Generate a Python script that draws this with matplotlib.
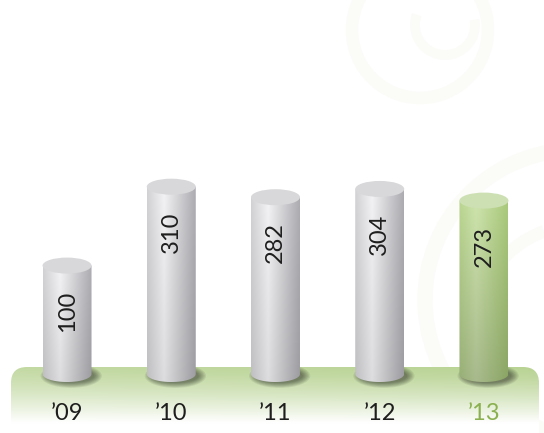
import numpy as np
import matplotlib
matplotlib.use("Agg")
import matplotlib.pyplot as plt
from matplotlib.patches import Ellipse, FancyBboxPatch, PathPatch, Arc
from matplotlib.path import Path
from matplotlib.colors import to_rgb

years = ["\u201909", "\u201910", "\u201911", "\u201912", "\u201913"]
values = [100, 310, 282, 304, 273]
highlight = [False, False, False, False, True]

plt.rcParams['font.family'] = ['Lato', 'DejaVu Sans']

W, H = 544, 433
fig = plt.figure(figsize=(W / 100, H / 100), dpi=100)

# decoration layer in pixel coordinates
deco = fig.add_axes([0, 0, 1, 1], zorder=0)
deco.set_xlim(0, W)
deco.set_ylim(H, 0)
deco.axis('off')

swirl = '#fbfbf8'
deco.add_patch(Arc((420, 30), 136, 136, theta1=0, theta2=360, color=swirl, lw=9))
deco.add_patch(Arc((445, 25), 60, 60, theta1=-10, theta2=200, color=swirl, lw=7))
deco.add_patch(Arc((575, 300), 300, 300, theta1=90, theta2=260, color=swirl, lw=11))
deco.add_patch(Arc((580, 330), 210, 210, theta1=100, theta2=250, color=swirl, lw=9))

# green platform
plat = FancyBboxPatch((11, 367), 528, 90, boxstyle="round,pad=0,rounding_size=16",
                      facecolor='none', edgecolor='none')
deco.add_patch(plat)
gy = np.linspace(0, 1, 200)[:, None]
top_c = np.array(to_rgb('#b9d394'))
white = np.ones(3)
fade = np.clip(gy / 0.62, 0, 1) ** 1.3
grad = top_c[None, None, :] * (1 - fade[..., None]) + white[None, None, :] * fade[..., None]
gx = np.linspace(0, 1, 300)[None, :]
side = 0.85 + 0.15 * gx
grad = grad * side[..., None] + white * (1 - side[..., None])
img = deco.imshow(grad, extent=(11, 539, 457, 367), aspect='auto', zorder=1)
img.set_clip_path(plat)

# chart layer in data coordinates
ax = fig.add_axes([0, 0, 1, 1], zorder=1)
ax.patch.set_alpha(0)
ax.axis('off')
ax.set_xlim(-0.643, 4.576)
ax.set_ylim(-345.6, 806.9)

floor = -188.6
hw = 0.235
he = 21.3


def shade(left, mid, right, n=120):
    x = np.linspace(0, 1, n)
    l, m, r = (np.array(to_rgb(c)) for c in (left, mid, right))
    out = np.empty((n, 3))
    for k, t in enumerate(x):
        if t < 0.35:
            s = t / 0.35
            out[k] = l * (1 - s) + m * s
        else:
            s = (t - 0.35) / 0.65
            out[k] = m * (1 - s) + r * s
    return out


for i, (v, hl) in enumerate(zip(values, highlight)):
    cx = i
    # soft shadow
    for k in range(7):
        ax.add_patch(Ellipse((cx + 0.04, floor - 5), 2 * hw * (1.25 - 0.05 * k), 2 * he * (1.5 - 0.1 * k),
                             facecolor='black', edgecolor='none', alpha=0.07, zorder=1))

    t = np.linspace(np.pi, 2 * np.pi, 40)
    verts = [(cx - hw, v), (cx - hw, floor)]
    verts += list(zip(cx + hw * np.cos(t), floor + he * np.sin(t)))
    verts += [(cx + hw, v), (cx - hw, v)]
    body = PathPatch(Path(verts), facecolor='none', edgecolor='none', zorder=2)
    ax.add_patch(body)

    if hl:
        row = shade('#b2cd8a', '#c6dba6', '#a3c276')
        vt = np.linspace(1.04, 0.85, 100)[:, None, None]
    else:
        row = shade('#d2d2d5', '#f3f3f5', '#acacb1')
        vt = np.linspace(1.0, 0.91, 100)[:, None, None]
    arr = np.clip(row[None, :, :] * vt, 0, 1)
    im = ax.imshow(arr, extent=(cx - hw, cx + hw, floor - he, v), aspect='auto', zorder=2)
    im.set_clip_path(body)

    cap_c = '#cde0b3' if hl else '#d8d8da'
    ax.add_patch(Ellipse((cx, v), 2 * hw, 2 * he, facecolor=cap_c, edgecolor='none', zorder=3))

    ax.text(cx, v - 122, str(v), rotation=90, ha='center', va='center',
            fontsize=17, color='#1e1e1e', zorder=4)
    ax.text(cx, 0.044, years[i], transform=ax.get_xaxis_transform(), ha='center', va='center',
            fontsize=17, color='#8ab04f' if hl else '#1e1e1e', zorder=4)

fig.savefig('out.png', dpi=100, facecolor='white')
